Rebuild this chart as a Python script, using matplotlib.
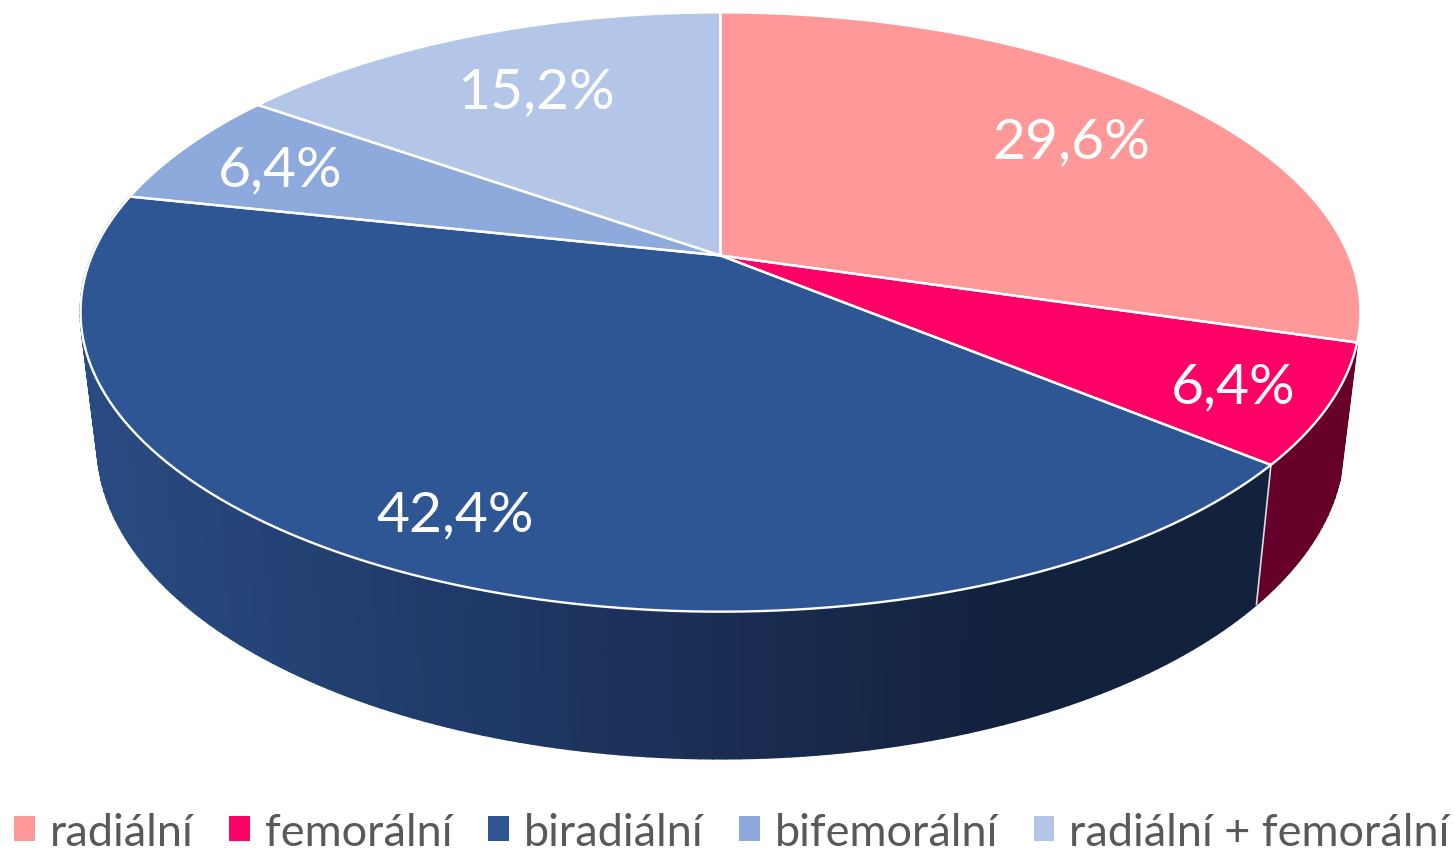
import numpy as np
import matplotlib
matplotlib.use("Agg")
import matplotlib.pyplot as plt
from matplotlib.patches import Patch

categories = ["radiální", "femorální", "biradiální", "bifemorální", "radiální + femorální"]
values = [29.6, 6.4, 42.4, 6.4, 15.2]
colors = ["#FF9999", "#FF0066", "#2E5594", "#8EA9DB", "#B4C6E7"]
side_colors = [None, "#660029", "gradient", None, None]

#pixel layout of the tilted pie
W, H = 1455, 854
CX = 720.5
TOP = dict(A=628.5, B=289, cy=256.5)
BOTTOM = dict(A=612, B=303.5, cy=385.5)
K = 0.1886
FONT = "Lato"
LABEL_POS = [(1071, 143), (1233, 388), (455, 516), (280, 171), (536, 93)]
GRAD_X = [100, 450, 700, 1000, 1260]
GRAD_HEX = ["#2A4B82", "#1F3A69", "#1B2E55", "#12213C", "#12223D"]


def project(theta, plane, r=1.0):
    #theta in degrees, clockwise from the top of the pie
    t = np.radians(theta)
    u, v = r * np.sin(t), r * np.cos(t)
    w = 1 + K * v
    return CX + plane["A"] * u / w, plane["cy"] - plane["B"] * v / w


def side_color(x):
    rgb = np.array([matplotlib.colors.to_rgb(c) for c in GRAD_HEX])
    return [np.interp(x, GRAD_X, rgb[:, i]) for i in range(3)]


fig = plt.figure(figsize=(W / 100, H / 100), dpi=100)
ax = fig.add_axes([0, 0, 1, 1])
ax.set_xlim(0, W)
ax.set_ylim(H, 0)
ax.axis("off")

edges = np.concatenate([[0], np.cumsum(values)]) * 3.6

#sides first, the top surface covers what is hidden
for i, side in enumerate(side_colors):
    if side is None:
        continue
    angles = np.arange(edges[i], edges[i + 1] + 0.5, 1.0)
    angles[-1] = edges[i + 1]
    for a0, a1 in zip(angles[:-1], angles[1:]):
        xt, yt = project(np.array([a0, a1]), TOP)
        xb, yb = project(np.array([a1, a0]), BOTTOM)
        c = side if side != "gradient" else side_color(xb.mean())
        ax.fill(np.r_[xt, xb], np.r_[yt, yb], facecolor=c, edgecolor=c, lw=1.5,
                joinstyle="round", zorder=1)
    #white edge where the slice side starts
    xt, yt = project(edges[i], TOP)
    xb, yb = project(edges[i], BOTTOM)
    if side == "gradient":
        ax.plot([xt, xb], [yt, yb], color="#DDDDDD", lw=1.2, zorder=2)

for i, c in enumerate(colors):
    angles = np.linspace(edges[i], edges[i + 1], 120)
    x, y = project(angles, TOP)
    ax.fill(np.r_[CX, x], np.r_[TOP["cy"], y], facecolor=c, edgecolor="none", zorder=3)
    ax.plot(np.r_[CX, x, CX], np.r_[TOP["cy"], y, TOP["cy"]], color="white", lw=1.7, zorder=4)

#labels
for v, (lx, ly) in zip(values, LABEL_POS):
    ax.text(lx, ly, f"{v:.1f}%".replace(".", ","), color="white", fontsize=41,
            family=FONT, ha="center", va="center", zorder=5)

handles = [Patch(facecolor=c, edgecolor="none") for c in colors]
ax.legend(handles, categories, loc="lower center", bbox_to_anchor=(0.503, -0.026), ncol=5,
          frameon=False, labelcolor="#595959", handlelength=0.46, handleheight=0.46,
          handletextpad=0.33, columnspacing=0.79, borderpad=0, prop={"family": FONT, "size": 32.5})

fig.savefig("out.png", dpi=100)
